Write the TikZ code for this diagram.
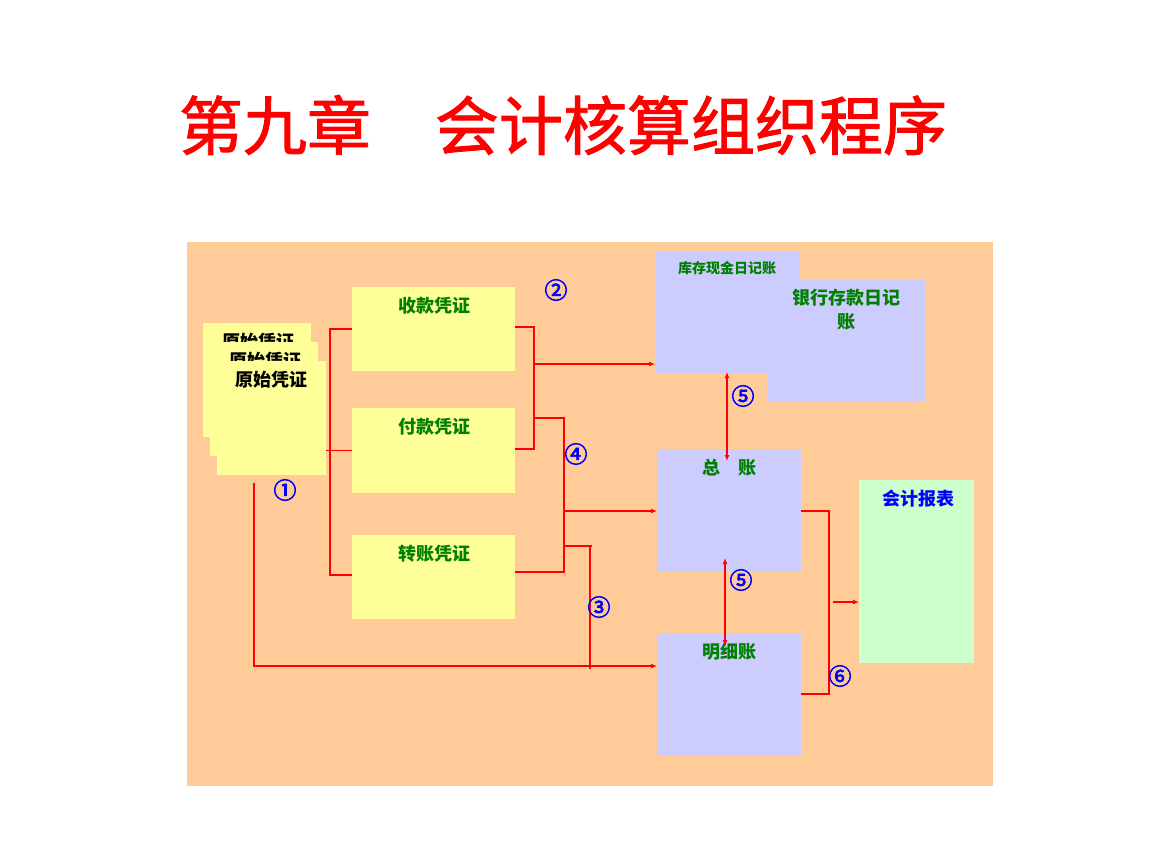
\documentclass[tikz,border=0pt]{standalone}
\usepackage{fontspec}
\setmainfont{Noto Sans CJK SC}
\newfontfamily\titlefont{Noto Sans CJK SC}[FakeBold=1.5]
\newfontfamily\numfont{Noto Sans CJK SC}[FakeBold=3]
\usetikzlibrary{arrows.meta}
\definecolor{bgpeach}{RGB}{255,204,153}
\definecolor{ypale}{RGB}{255,255,153}
\definecolor{lav}{RGB}{204,204,255}
\definecolor{mint}{RGB}{204,255,204}
\definecolor{dgreen}{RGB}{0,128,0}
\tikzset{
	box/.style={inner sep=0pt,anchor=north west},
	ybox/.style={box,fill=ypale},
	lbox/.style={box,fill=lav},
	gtxt/.style={text=dgreen,font=\fontsize{18}{24}\selectfont\bfseries},
	ktxt/.style={text=black,font=\fontsize{18}{20}\selectfont\bfseries},
	num/.style={text=blue,font=\fontsize{23}{23}\selectfont\numfont},
	rl/.style={red,line width=1.5pt},
	ra/.style={rl,-{Latex[length=6pt,width=5pt]}},
	rd/.style={rl,{Latex[length=6pt,width=5pt]}-{Latex[length=6pt,width=5pt]}}
}
\begin{document}
\begin{tikzpicture}[x=1pt,y=-1pt]
	\useasboundingbox (0,0) rectangle (1152,864);
	\node[text=red,font=\fontsize{64}{64}\selectfont\titlefont] (title) at (563,125) {第九章\hspace{1em}会计核算组织程序};
	\node[box,fill=bgpeach,minimum width=806pt,minimum height=544pt] (bg) at (187,242) {};
	\node[ybox,minimum width=108pt,minimum height=114pt] (ys1) at (203,323) {};
	\node[ktxt] (ys1t) at (258,342) {原始凭证};
	\node[ybox,minimum width=108pt,minimum height=114pt] (ys2) at (210,342) {};
	\node[ktxt] (ys2t) at (265,361) {原始凭证};
	\node[ybox,minimum width=109pt,minimum height=114pt] (ys3) at (217,361) {};
	\node[ktxt] (ys3t) at (271,380) {原始凭证};
	\node[ybox,minimum width=163pt,minimum height=84pt] (sk) at (352,287) {};
	\node[gtxt] (skt) at (434,306) {收款凭证};
	\node[ybox,minimum width=163pt,minimum height=85pt] (fk) at (352,408) {};
	\node[gtxt] (fkt) at (434,427) {付款凭证};
	\node[ybox,minimum width=163pt,minimum height=84pt] (zz) at (352,535) {};
	\node[gtxt] (zzt) at (434,554) {转账凭证};
	\node[lbox,minimum width=144pt,minimum height=121pt] (cash) at (655,252) {};
	\node[lbox,minimum width=157pt,minimum height=123pt] (bank) at (768,279) {};
	\node[gtxt,font=\fontsize{14}{16}\selectfont\bfseries] (casht) at (727,268) {库存现金日记账};
	\node[gtxt,align=center] (bankt) at (846,310) {银行存款日记\\账};
	\node[lbox,minimum width=144pt,minimum height=122pt] (zong) at (657,449) {};
	\node[gtxt] (zongt) at (729,468) {总\hspace{1em}账};
	\node[lbox,minimum width=144pt,minimum height=122pt] (mx) at (657,633) {};
	\node[gtxt] (mxt) at (729,652) {明细账};
	\node[box,fill=mint,minimum width=115pt,minimum height=183pt] (bb) at (859,480) {};
	\node[gtxt,text=blue] (bbt) at (918,499) {会计报表};
	\coordinate (j1) at (330,329);
	\coordinate (j2) at (330,575);
	\coordinate (j3) at (534,327);
	\coordinate (j4) at (534,449);
	\coordinate (j5) at (534,364);
	\coordinate (j6) at (534,418);
	\coordinate (j7) at (564,418);
	\coordinate (j8) at (564,572);
	\coordinate (j9) at (564,511);
	\coordinate (j10) at (564,546);
	\coordinate (j11) at (592,546);
	\coordinate (j12) at (590,546);
	\coordinate (j13) at (590,669);
	\coordinate (j14) at (254,483);
	\coordinate (j15) at (254,666);
	\coordinate (k1) at (727,372);
	\coordinate (k2) at (727,461);
	\coordinate (k3) at (725,558);
	\coordinate (k4) at (725,646);
	\coordinate (m1) at (829,511);
	\coordinate (m2) at (829,694);
	\coordinate (m3) at (833,602);
	\draw[rl] (fk.west) -- (fk.west -| ys3.east);
	\draw[rl] (sk.west |- j1) -- (j1) -- (j2) -- (zz.west |- j2);
	\draw[rl] (sk.east |- j3) -- (j3) -- (j4) -- (fk.east |- j4);
	\draw[ra] (j5) -- (cash.west |- j5);
	\draw[rl] (j6) -- (j7) -- (j8) -- (zz.east |- j8);
	\draw[ra] (j9) -- (zong.west |- j9);
	\draw[rl] (j10) -- (j11);
	\draw[rl] (j12) -- (j13);
	\draw[ra] (j14) -- (j15) -- (mx.west |- j15);
	\draw[rd] (k1) -- (k2);
	\draw[rd] (k3) -- (k4);
	\draw[rl] (zong.east |- m1) -- (m1) -- (m2) -- (mx.east |- m2);
	\draw[ra] (m3) -- (bb.west |- m3);
	\node[num] (n1) at (285,490) {①};
	\node[num] (n2) at (556,290) {②};
	\node[num] (n3) at (599,607) {③};
	\node[num] (n4) at (576,454) {④};
	\node[num] (n5a) at (743,396) {⑤};
	\node[num] (n5b) at (741,580) {⑤};
	\node[num] (n6) at (840,676) {⑥};
\end{tikzpicture}
\end{document}
